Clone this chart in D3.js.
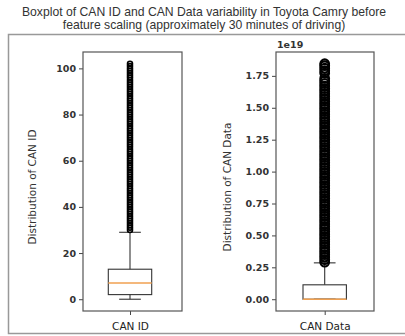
<!DOCTYPE html>
<html>
<head>
<meta charset="utf-8">
<script src="https://cdn.jsdelivr.net/npm/d3@7"></script>
<style>
  body { margin: 0; background: #fff; }
  svg { display: block; }
  text { font-family: "DejaVu Sans", sans-serif; fill: #222; }
</style>
</head>
<body>
<svg id="chart"></svg>
<script>
var width = 405, height = 336;

// data
var titleLines = ["Boxplot of CAN ID and CAN Data variability in Toyota Camry before",
                  "feature scaling (approximately 30 minutes of driving)"];
var categories = ["CAN ID", "CAN Data"];
var yLabels = ["Distribution of CAN ID", "Distribution of CAN Data"];

// [lower whisker, q1, median, q3, upper whisker]
var canIdStats = [0, 2, 7, 13, 29];
var canDataStats = [0, 0, 0, 0.113, 0.285];   // x 1e19

var canIdFliers = [30, 31, 32, 33, 34, 35, 36, 37, 38, 39, 40, 41, 42, 43, 44, 45, 46, 47, 48, 49,
                   50, 51, 52, 53, 54, 55, 56, 57, 58, 59, 60, 61, 62, 63, 64, 65, 66, 67, 68, 69,
                   70, 71, 72, 73, 74, 75, 76, 77, 78, 79, 80, 81, 82, 83, 84, 85, 86, 87, 88, 89,
                   90, 91, 92, 93, 94, 95, 96, 97, 98, 99, 100, 101, 102];
var canDataFliers = [0.29, 0.31, 0.33, 0.35, 0.37, 0.39, 0.41, 0.43, 0.45, 0.47, 0.49, 0.51, 0.53,
                     0.55, 0.57, 0.59, 0.61, 0.63, 0.65, 0.67, 0.69, 0.71, 0.73, 0.75, 0.77, 0.79,
                     0.81, 0.83, 0.85, 0.87, 0.89, 0.91, 0.93, 0.95, 0.97, 0.99, 1.01, 1.03, 1.05,
                     1.07, 1.09, 1.11, 1.13, 1.15, 1.17, 1.19, 1.21, 1.23, 1.25, 1.27, 1.29, 1.31,
                     1.33, 1.35, 1.37, 1.39, 1.41, 1.43, 1.45, 1.47, 1.49, 1.51, 1.53, 1.55, 1.57,
                     1.59, 1.61, 1.63, 1.65, 1.67, 1.69, 1.71, 1.73, 1.77, 1.79, 1.81, 1.83, 1.845];

var canIdTicks = [0, 20, 40, 60, 80, 100];
var canDataTicks = [0, 0.25, 0.5, 0.75, 1.0, 1.25, 1.5, 1.75];

var svg = d3.select("#chart").attr("width", width).attr("height", height);

// outer frame of the figure
svg.append("rect")
    .attr("x", 8.5).attr("y", 34.5)
    .attr("width", 410).attr("height", 299)
    .style("fill", "none").style("stroke", "#999").style("stroke-width", 1.5);

// title
svg.selectAll("text.title")
    .data(titleLines)
    .enter().append("text")
    .attr("class", "title")
    .attr("x", 204)
    .attr("y", function(d, i) { return 16 + i * 13; })
    .attr("text-anchor", "middle")
    .style("font-family", "'Liberation Sans', Arial, sans-serif")
    .style("font-size", "12.2px")
    .style("fill", "#333")
    .text(function(d) { return d; });

var panels = [
    { left: 83, right: 182, center: 130, stats: canIdStats, fliers: canIdFliers,
      domain: [-5.1, 107.1], ticks: canIdTicks, fmt: d3.format("d"), r: 2.5, sw: 1.6,
      label: yLabels[0], labelX: 36, cat: categories[0] },
    { left: 276, right: 374, center: 324.7, stats: canDataStats, fliers: canDataFliers,
      domain: [-0.0922, 1.937], ticks: canDataTicks, fmt: d3.format(".2f"), r: 4.3, sw: 2.2,
      label: yLabels[1], labelX: 231, cat: categories[1] }
];

var axTop = 52, axBottom = 311;

panels.forEach(function(p, idx) {
    var y = d3.scaleLinear().domain(p.domain).range([axBottom, axTop]);
    var x = d3.scaleLinear().domain([0.5, 1.5]).range([p.center - 43.4, p.center + 43.4]);
    var g = svg.append("g");

    // y axis
    var yAxis = g.append("g")
        .attr("transform", "translate(" + p.left + ",0)")
        .call(d3.axisLeft(y).tickValues(p.ticks).tickFormat(p.fmt).tickSize(4).tickPadding(3));
    yAxis.select(".domain").remove();
    yAxis.selectAll(".tick line").style("stroke", "#444");
    yAxis.selectAll(".tick text")
        .style("font-size", "9.5px").style("font-weight", "bold").style("fill", "#333");

    // x axis
    var xAxis = g.append("g")
        .attr("transform", "translate(0," + axBottom + ")")
        .call(d3.axisBottom(x).tickValues([1]).tickFormat(function() { return p.cat; })
            .tickSize(4).tickPadding(8));
    xAxis.select(".domain").remove();
    xAxis.selectAll(".tick line").style("stroke", "#444");
    xAxis.selectAll(".tick text").style("font-size", "10.5px").style("fill", "#222");

    // y label
    g.append("text")
        .attr("transform", "translate(" + p.labelX + ",187) rotate(-90)")
        .attr("text-anchor", "middle")
        .style("font-size", "10.5px")
        .style("fill", "#333")
        .text(p.label);

    var s = p.stats;
    var lineStyle = function(sel) {
        return sel.style("stroke", "#333").style("stroke-width", 1.1).style("fill", "none");
    };

    // whiskers
    g.append("line").attr("x1", x(1)).attr("x2", x(1))
        .attr("y1", y(s[0])).attr("y2", y(s[1])).call(lineStyle);
    g.append("line").attr("x1", x(1)).attr("x2", x(1))
        .attr("y1", y(s[3])).attr("y2", y(s[4])).call(lineStyle);
    // caps
    [s[0], s[4]].forEach(function(v) {
        g.append("line").attr("x1", x(0.875)).attr("x2", x(1.125))
            .attr("y1", y(v)).attr("y2", y(v)).call(lineStyle);
    });

    // fliers
    g.append("g").selectAll("circle")
        .data(p.fliers)
        .enter().append("circle")
        .attr("cx", x(1))
        .attr("cy", function(d) { return y(d); })
        .attr("r", p.r)
        .style("fill", "none")
        .style("stroke", "#000")
        .style("stroke-width", p.sw);

    // box
    g.append("rect")
        .attr("x", x(0.75)).attr("width", x(1.25) - x(0.75))
        .attr("y", y(s[3])).attr("height", y(s[1]) - y(s[3]))
        .call(lineStyle);

    // median
    g.append("line").attr("x1", x(0.75)).attr("x2", x(1.25))
        .attr("y1", y(s[2])).attr("y2", y(s[2]))
        .style("stroke", "#f0a050").style("stroke-width", 1.4);

    // spines
    g.append("rect")
        .attr("x", p.left).attr("y", axTop)
        .attr("width", p.right - p.left).attr("height", axBottom - axTop)
        .style("fill", "none").style("stroke", "#555").style("stroke-width", 1.2);

    if (idx == 1) {
        g.append("text")
            .attr("x", p.left + 1).attr("y", 48)
            .style("font-size", "9.5px").style("font-weight", "bold").style("fill", "#333")
            .text("1e19");
    }
});
</script>
</body>
</html>
